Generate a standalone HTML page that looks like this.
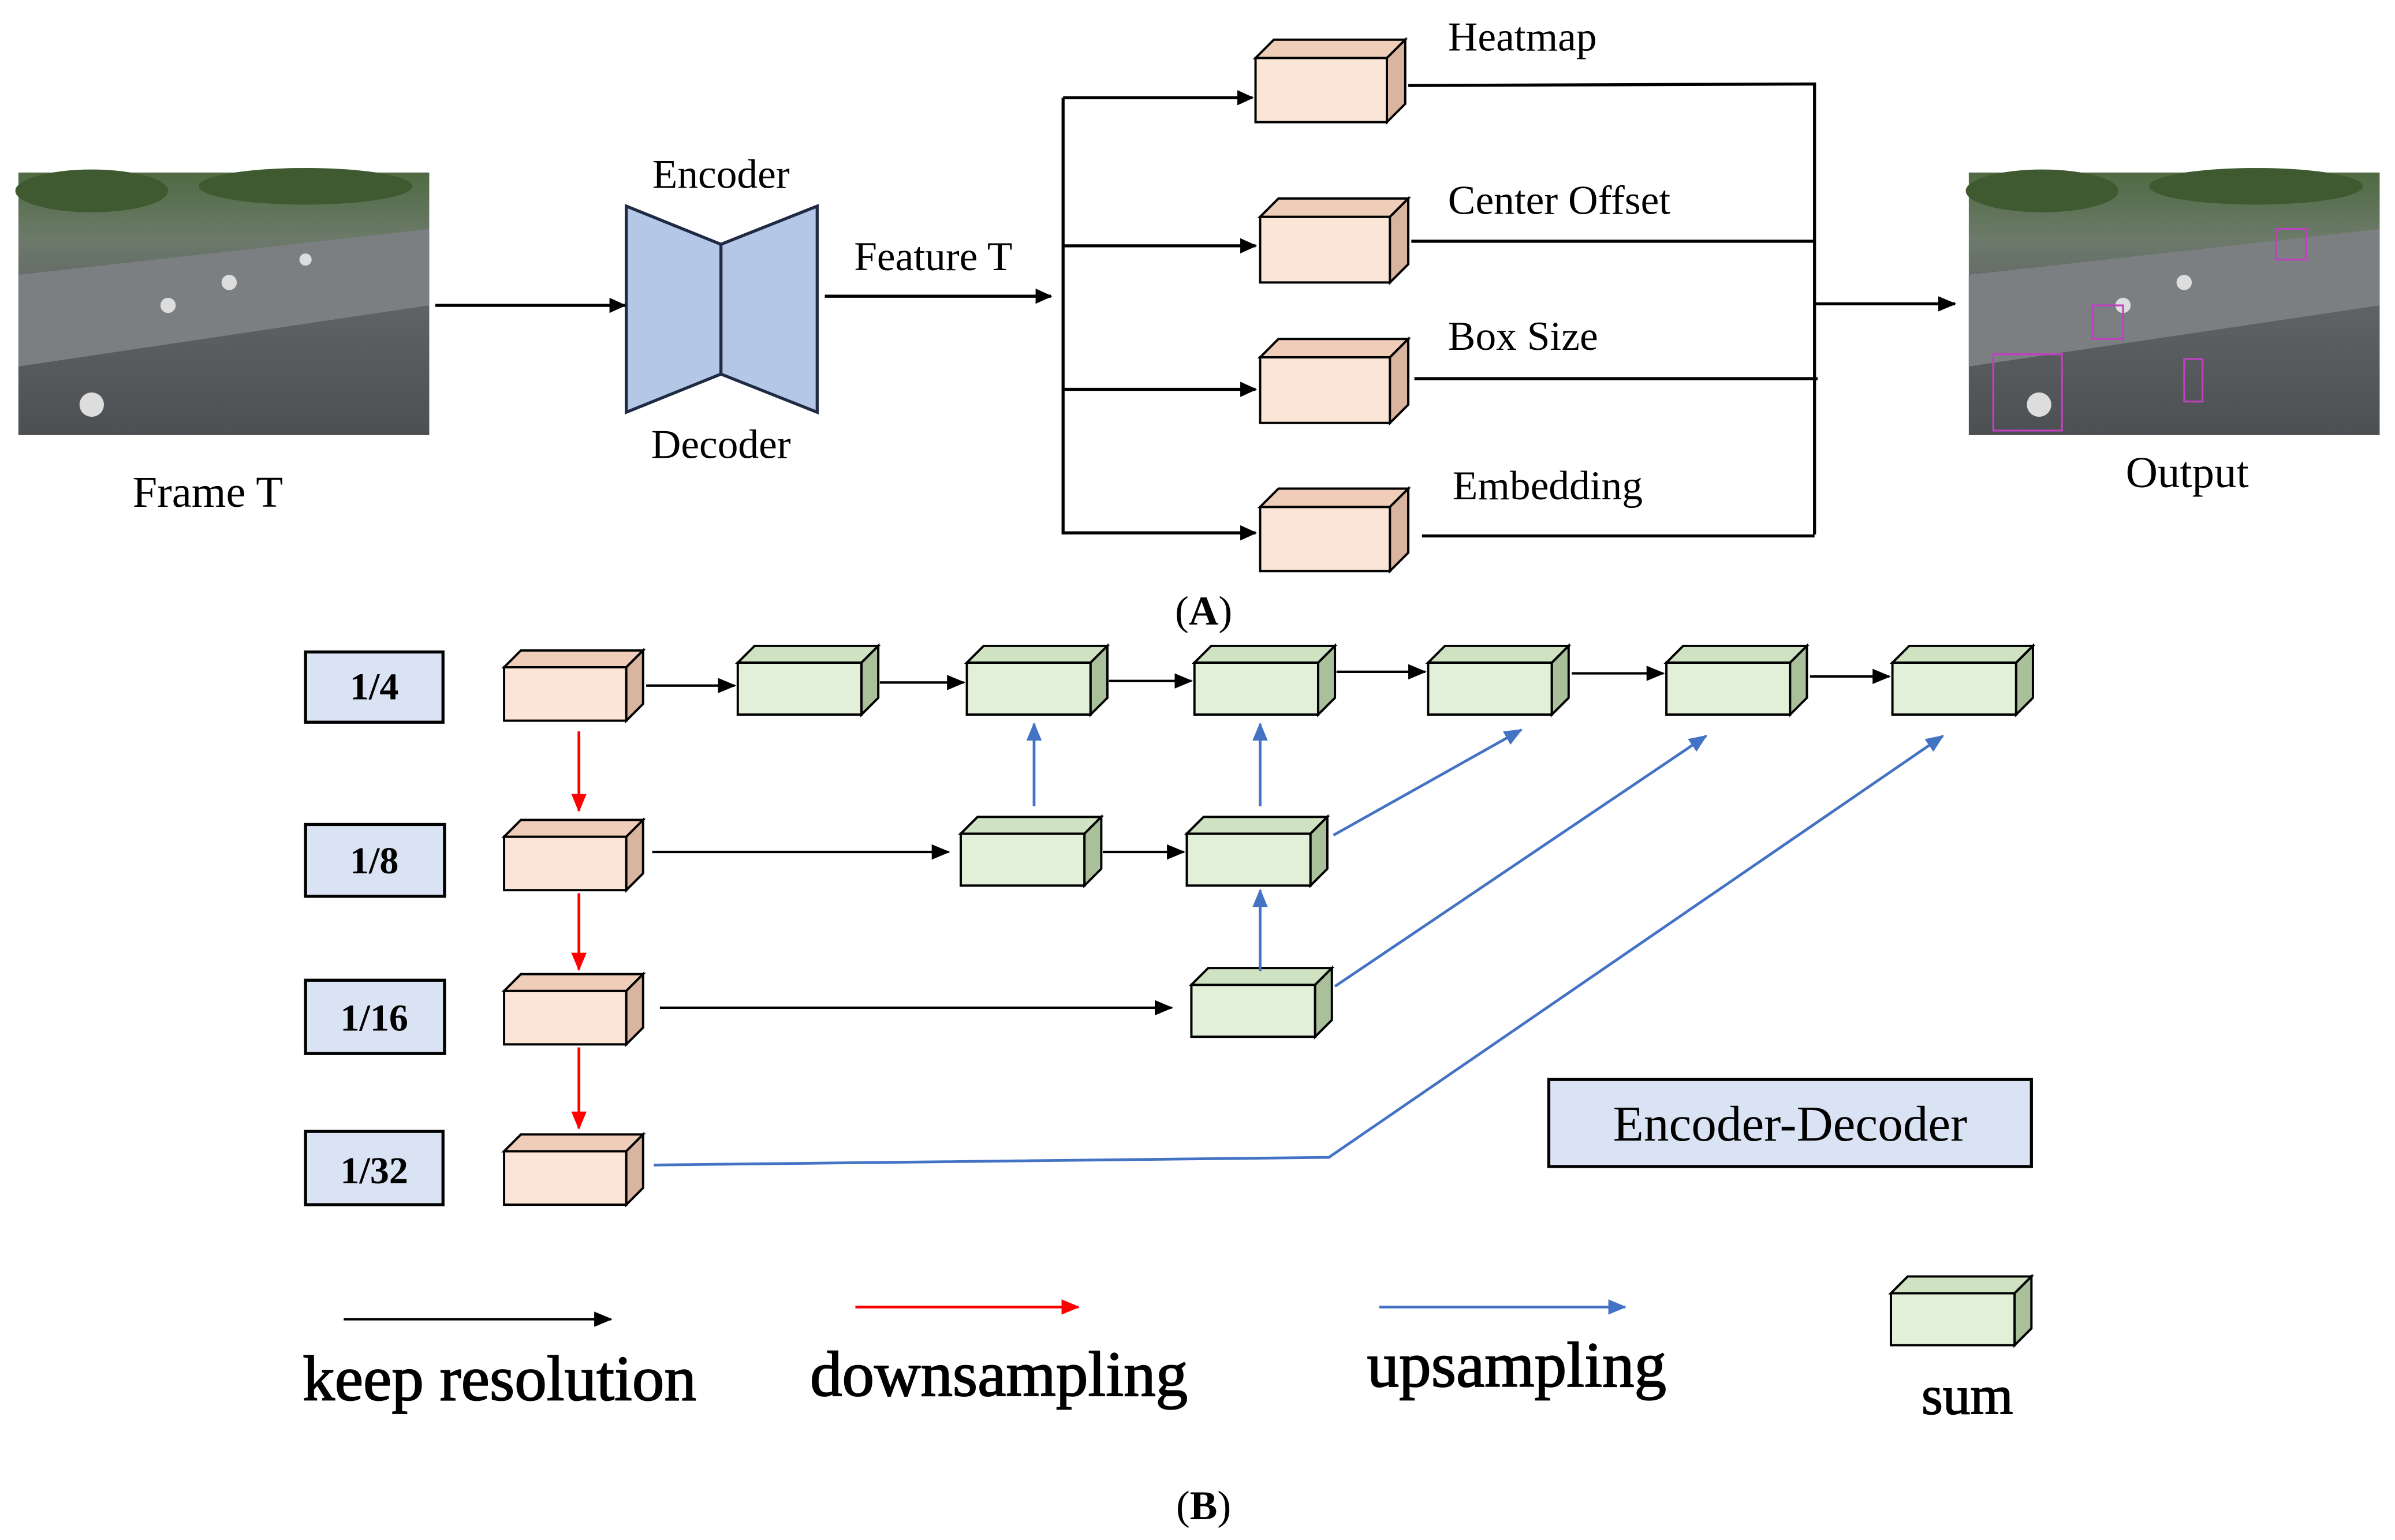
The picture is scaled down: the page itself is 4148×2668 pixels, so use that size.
<!DOCTYPE html>
<html><head><meta charset="utf-8"><style>html,body{margin:0;padding:0;background:#fff}svg{display:block}</style></head><body>
<svg width="4148" height="2668" viewBox="0 0 1568 1008.6" xmlns="http://www.w3.org/2000/svg">
<defs>
<marker id="ak" markerWidth="11" markerHeight="10" refX="10" refY="5" orient="auto" markerUnits="userSpaceOnUse"><path d="M0,0 L11,5 L0,10 z" fill="#000"/></marker>
<marker id="ar" markerWidth="12" markerHeight="10" refX="11" refY="5" orient="auto" markerUnits="userSpaceOnUse"><path d="M0,0 L12,5 L0,10 z" fill="#000"/></marker>
<marker id="rd" markerWidth="12" markerHeight="10" refX="11" refY="5" orient="auto" markerUnits="userSpaceOnUse"><path d="M0,0 L12,5 L0,10 z" fill="#f00"/></marker>
<marker id="bl" markerWidth="12" markerHeight="10" refX="11" refY="5" orient="auto" markerUnits="userSpaceOnUse"><path d="M0,0 L12,5 L0,10 z" fill="#4472c4"/></marker>
<linearGradient id="img" x1="0" y1="0" x2="0" y2="1"><stop offset="0" stop-color="#4f6a42"/><stop offset="0.25" stop-color="#6c7a6a"/><stop offset="0.5" stop-color="#5f6366"/><stop offset="1" stop-color="#4c5053"/></linearGradient>
</defs>
<style>
text{font-family:"Liberation Serif",serif;fill:#000}
.p{fill:#fbe5d6;stroke:#000;stroke-width:1.5}
.p2{fill:#f0cdb9;stroke:#000;stroke-width:1.5}
.p3{fill:#d9b5a0;stroke:#000;stroke-width:1.5}
.g{fill:#e2f0d9;stroke:#000;stroke-width:1.5}
.g2{fill:#cfe3c2;stroke:#000;stroke-width:1.5}
.g3{fill:#a9c09a;stroke:#000;stroke-width:1.5}
.k{stroke:#000;stroke-width:2;fill:none}
.r{stroke:#f00;stroke-width:1.8;fill:none}
.b{stroke:#4472c4;stroke-width:1.8;fill:none}
.lab{fill:#dae3f3;stroke:#000;stroke-width:2}
.leg{font-size:42px;stroke:#000;stroke-width:0.7}
</style>

<rect x="12" y="113" width="269" height="172" fill="url(#img)"/>
<rect x="1289" y="113" width="269" height="172" fill="url(#img)"/>
<g fill="#3f5a30"><ellipse cx="60" cy="125" rx="50" ry="14"/><ellipse cx="200" cy="122" rx="70" ry="12"/><ellipse cx="1337" cy="125" rx="50" ry="14"/><ellipse cx="1477" cy="122" rx="70" ry="12"/></g>
<g fill="#7b7f82"><polygon points="12,180 281,150 281,200 12,240"/><polygon points="1289,180 1558,150 1558,200 1289,240"/></g>
<g fill="#ddd"><circle cx="60" cy="265" r="8"/><circle cx="110" cy="200" r="5"/><circle cx="150" cy="185" r="5"/><circle cx="200" cy="170" r="4"/><circle cx="1335" cy="265" r="8"/><circle cx="1390" cy="200" r="5"/><circle cx="1430" cy="185" r="5"/></g>
<g fill="none" stroke="#c040c0" stroke-width="1.2"><rect x="1305" y="232" width="45" height="50"/><rect x="1370" y="200" width="20" height="22"/><rect x="1490" y="150" width="20" height="20"/><rect x="1430" y="235" width="12" height="28"/></g>
<text x="136" y="332" font-size="29" text-anchor="middle">Frame T</text>
<text x="1432" y="319" font-size="29" text-anchor="middle">Output</text>

<polygon points="410,135 472,160 472,245 410,270" fill="#b4c7e7" stroke="#1f2a44" stroke-width="2"/>
<polygon points="472,160 535,135 535,270 472,245" fill="#b4c7e7" stroke="#1f2a44" stroke-width="2"/>
<text x="472" y="123" font-size="27" text-anchor="middle">Encoder</text>
<text x="472" y="300" font-size="27" text-anchor="middle">Decoder</text>
<line x1="285" y1="200" x2="409" y2="200" class="k" marker-end="url(#ak)"/>
<line x1="540" y1="194" x2="688" y2="194" class="k" marker-end="url(#ak)"/>
<text x="611" y="177" font-size="27" text-anchor="middle">Feature T</text>

<path d="M696,64 V350" class="k"/>
<line x1="696" y1="64" x2="820" y2="64" class="k" marker-end="url(#ak)"/>
<line x1="696" y1="161" x2="822" y2="161" class="k" marker-end="url(#ak)"/>
<line x1="696" y1="255" x2="822" y2="255" class="k" marker-end="url(#ak)"/>
<line x1="696" y1="349" x2="822" y2="349" class="k" marker-end="url(#ak)"/>

<g>
<rect class="p" x="822" y="38" width="86" height="42"/><polygon class="p2" points="822,38 834,26 920,26 908,38"/><polygon class="p3" points="908,38 920,26 920,68 908,80"/>
<rect class="p" x="825" y="142" width="85" height="43"/><polygon class="p2" points="825,142 837,130 922,130 910,142"/><polygon class="p3" points="910,142 922,130 922,173 910,185"/>
<rect class="p" x="825" y="234" width="85" height="43"/><polygon class="p2" points="825,234 837,222 922,222 910,234"/><polygon class="p3" points="910,234 922,222 922,265 910,277"/>
<rect class="p" x="825" y="332" width="85" height="42"/><polygon class="p2" points="825,332 837,320 922,320 910,332"/><polygon class="p3" points="910,332 922,320 922,362 910,374"/>
</g>
<text x="948" y="33" font-size="27">Heatmap</text>
<text x="948" y="140" font-size="27">Center Offset</text>
<text x="948" y="229" font-size="27">Box Size</text>
<text x="951" y="327" font-size="27">Embedding</text>
<path d="M922,56 L1188,55 V350 M924,158 H1188 M926,248 H1190 M931,351 H1188" class="k"/>
<line x1="1188" y1="199" x2="1280" y2="199" class="k" marker-end="url(#ar)"/>
<text x="788" y="409" font-size="27" text-anchor="middle">(<tspan font-weight="bold">A</tspan>)</text>

<rect class="lab" x="200" y="427" width="90" height="46"/><text x="245" y="458" text-anchor="middle" font-size="25" font-weight="bold">1/4</text>
<rect class="lab" x="200" y="540" width="91" height="47"/><text x="245" y="572" text-anchor="middle" font-size="25" font-weight="bold">1/8</text>
<rect class="lab" x="200" y="642" width="91" height="48"/><text x="245" y="675" text-anchor="middle" font-size="25" font-weight="bold">1/16</text>
<rect class="lab" x="200" y="741" width="90" height="48"/><text x="245" y="775" text-anchor="middle" font-size="25" font-weight="bold">1/32</text>

<g>
<rect class="p" x="330" y="437" width="80" height="35"/><polygon class="p2" points="330,437 341,426 421,426 410,437"/><polygon class="p3" points="410,437 421,426 421,461 410,472"/>
<rect class="p" x="330" y="548" width="80" height="35"/><polygon class="p2" points="330,548 341,537 421,537 410,548"/><polygon class="p3" points="410,548 421,537 421,572 410,583"/>
<rect class="p" x="330" y="649" width="80" height="35"/><polygon class="p2" points="330,649 341,638 421,638 410,649"/><polygon class="p3" points="410,649 421,638 421,673 410,684"/>
<rect class="p" x="330" y="754" width="80" height="35"/><polygon class="p2" points="330,754 341,743 421,743 410,754"/><polygon class="p3" points="410,754 421,743 421,778 410,789"/>
</g>

<g>
<rect class="g" x="483" y="434" width="81" height="34"/><polygon class="g2" points="483,434 494,423 575,423 564,434"/><polygon class="g3" points="564,434 575,423 575,457 564,468"/>
<rect class="g" x="633" y="434" width="81" height="34"/><polygon class="g2" points="633,434 644,423 725,423 714,434"/><polygon class="g3" points="714,434 725,423 725,457 714,468"/>
<rect class="g" x="782" y="434" width="81" height="34"/><polygon class="g2" points="782,434 793,423 874,423 863,434"/><polygon class="g3" points="863,434 874,423 874,457 863,468"/>
<rect class="g" x="935" y="434" width="81" height="34"/><polygon class="g2" points="935,434 946,423 1027,423 1016,434"/><polygon class="g3" points="1016,434 1027,423 1027,457 1016,468"/>
<rect class="g" x="1091" y="434" width="81" height="34"/><polygon class="g2" points="1091,434 1102,423 1183,423 1172,434"/><polygon class="g3" points="1172,434 1183,423 1183,457 1172,468"/>
<rect class="g" x="1239" y="434" width="81" height="34"/><polygon class="g2" points="1239,434 1250,423 1331,423 1320,434"/><polygon class="g3" points="1320,434 1331,423 1331,457 1320,468"/>
<rect class="g" x="629" y="546" width="81" height="34"/><polygon class="g2" points="629,546 640,535 721,535 710,546"/><polygon class="g3" points="710,546 721,535 721,569 710,580"/>
<rect class="g" x="777" y="546" width="81" height="34"/><polygon class="g2" points="777,546 788,535 869,535 858,546"/><polygon class="g3" points="858,546 869,535 869,569 858,580"/>
<rect class="g" x="780" y="645" width="81" height="34"/><polygon class="g2" points="780,645 791,634 872,634 861,645"/><polygon class="g3" points="861,645 872,634 872,668 861,679"/>
<rect class="g" x="1238" y="847" width="81" height="34"/><polygon class="g2" points="1238,847 1249,836 1330,836 1319,847"/><polygon class="g3" points="1319,847 1330,836 1330,870 1319,881"/>
</g>

<g class="k" style="stroke-width:1.6">
<line x1="423" y1="449" x2="481" y2="449" marker-end="url(#ar)"/>
<line x1="576" y1="447" x2="631" y2="447" marker-end="url(#ar)"/>
<line x1="726" y1="446" x2="780" y2="446" marker-end="url(#ar)"/>
<line x1="875" y1="440" x2="933" y2="440" marker-end="url(#ar)"/>
<line x1="1029" y1="441" x2="1089" y2="441" marker-end="url(#ar)"/>
<line x1="1185" y1="443" x2="1237" y2="443" marker-end="url(#ar)"/>
<line x1="427" y1="558" x2="621" y2="558" marker-end="url(#ar)"/>
<line x1="722" y1="558" x2="775" y2="558" marker-end="url(#ar)"/>
<line x1="432" y1="660" x2="767" y2="660" marker-end="url(#ar)"/>
<line x1="225" y1="864" x2="400" y2="864" marker-end="url(#ar)"/>
</g>
<g class="r">
<line x1="379" y1="479" x2="379" y2="531" marker-end="url(#rd)"/>
<line x1="379" y1="585" x2="379" y2="635" marker-end="url(#rd)"/>
<line x1="379" y1="686" x2="379" y2="739" marker-end="url(#rd)"/>
<line x1="560" y1="856" x2="706" y2="856" marker-end="url(#rd)"/>
</g>
<g class="b">
<line x1="677" y1="528" x2="677" y2="474" marker-end="url(#bl)"/>
<line x1="825" y1="528" x2="825" y2="474" marker-end="url(#bl)"/>
<line x1="825" y1="636" x2="825" y2="583" marker-end="url(#bl)"/>
<line x1="873" y1="547" x2="996" y2="478" marker-end="url(#bl)"/>
<line x1="874" y1="646" x2="1117" y2="482" marker-end="url(#bl)"/>
<polyline points="428,763 870,758 1272,482" marker-end="url(#bl)"/>
<line x1="903" y1="856" x2="1064" y2="856" marker-end="url(#bl)"/>
</g>

<rect class="lab" x="1014" y="707" width="316" height="57"/>
<text x="1172" y="747" font-size="33" text-anchor="middle">Encoder-Decoder</text>

<text x="327" y="917" text-anchor="middle" class="leg">keep resolution</text>
<text x="654" y="914" text-anchor="middle" class="leg">downsampling</text>
<text x="993" y="908" text-anchor="middle" class="leg">upsampling</text>
<text x="1288" y="926" text-anchor="middle" font-size="36" stroke="#000" stroke-width="0.6">sum</text>
<text x="788" y="995" font-size="27" text-anchor="middle">(<tspan font-weight="bold">B</tspan>)</text>
</svg>
</body></html>
